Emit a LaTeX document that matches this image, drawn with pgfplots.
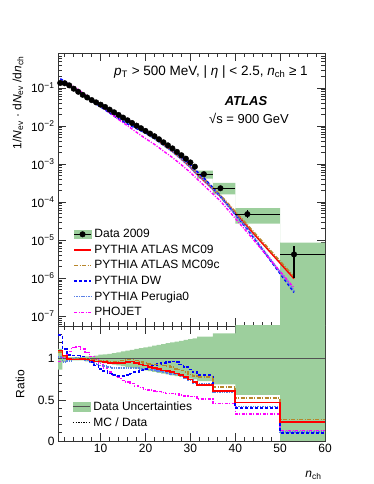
\documentclass[border=0pt]{standalone}
\usepackage{fontspec}
\setmainfont{Liberation Sans}
\usepackage{pgfplots}
\pgfplotsset{compat=1.18}
\usepgfplotslibrary{fillbetween}
\definecolor{band}{HTML}{9DCF9D}
\definecolor{mcnine}{HTML}{FF0000}
\definecolor{mcninec}{HTML}{B8862B}
\definecolor{dw}{HTML}{0000FF}
\definecolor{perugia}{HTML}{5A80E6}
\definecolor{phojet}{HTML}{FF00FF}
\definecolor{frame}{HTML}{333333}
\newcommand{\fs}{\fontsize{12bp}{14bp}\selectfont}

\pgfplotsset{
  atlas/.style={
    scale only axis, width=267bp,
    xmin=0.5, xmax=60,
    axis line style={frame, line width=0.9bp},
    tick align=inside,
    major tick length=8bp, minor tick length=4bp,
    every tick/.style={frame, line width=0.6bp},
    xtick={10,20,...,60},
    minor xtick={2,4,6,8,12,14,16,18,22,24,26,28,32,34,36,38,42,44,46,48,52,54,56,58},
    /pgf/number format/assume math mode=true,
    tick label style={font=\fs},
    legend style={draw=none, fill=none, font=\fs, inner sep=0pt, row sep=1.7bp,
      nodes={inner xsep=2.5bp, inner ysep=2pt}},
    legend cell align=left,
  },
  mcred/.style={color=mcnine, line width=1.6bp},
  mcbrown/.style={color=mcninec, line width=1.6bp, dash pattern=on 4bp off 1.5bp on 1bp off 1.5bp},
  mcdw/.style={color=dw, line width=1.6bp, dash pattern=on 3bp off 2bp},
  mcper/.style={color=perugia, line width=1.8bp, dash pattern=on 1.4bp off 1bp},
  mcpho/.style={color=phojet, line width=1.4bp, dash pattern=on 3bp off 1.5bp on 1bp off 1.5bp},
}

\begin{document}
\begin{tikzpicture}[font=\fs]

% ---------------- top panel ----------------
\begin{axis}[atlas, at={(58bp,158bp)}, anchor=south west, height=273bp,
  ymode=log, ymin=5.5e-8, ymax=0.83,
  ytick={1e-7,1e-6,1e-5,1e-4,1e-3,1e-2,1e-1},
  yticklabels={10\textsuperscript{−7},10\textsuperscript{−6},10\textsuperscript{−5},10\textsuperscript{−4},10\textsuperscript{−3},10\textsuperscript{−2},10\textsuperscript{−1}},
  minor ytick={6e-8,7e-8,8e-8,9e-8,
    2e-7,3e-7,4e-7,5e-7,6e-7,7e-7,8e-7,9e-7,
    2e-6,3e-6,4e-6,5e-6,6e-6,7e-6,8e-6,9e-6,
    2e-5,3e-5,4e-5,5e-5,6e-5,7e-5,8e-5,9e-5,
    2e-4,3e-4,4e-4,5e-4,6e-4,7e-4,8e-4,9e-4,
    2e-3,3e-3,4e-3,5e-3,6e-3,7e-3,8e-3,9e-3,
    2e-2,3e-2,4e-2,5e-2,6e-2,7e-2,8e-2,9e-2,
    2e-1,3e-1,4e-1,5e-1,6e-1,7e-1,8e-1},
  xticklabels={},
  legend style={at={(axis description cs:0.056,0.362)}, anchor=north west},
]
% data systematic boxes (wide bins)
\addplot[name path=tophi, draw=none, const plot, forget plot] coordinates {(31.5,6.7e-4)(35,3.2e-4)(40,6.9e-5)(50,8.5e-6)(60,8.5e-6)};
\addplot[name path=toplo, draw=none, const plot, forget plot] coordinates {(31.5,4.1e-4)(35,1.6e-4)(40,2.7e-5)(50,1e-8)(60,1e-8)};
\addplot[band, forget plot] fill between[of=tophi and toplo];

\addlegendimage{legend image code/.code={
  \fill[band] (0bp,-4.2bp) rectangle (17bp,4.2bp);
  \draw[black, line width=1.2bp] (0bp,0bp) -- (17bp,0bp);
  \fill[black] (8.5bp,0bp) circle (2.8bp);}}
\addlegendentry{Data 2009}

\addplot[mcred] coordinates {(1,0.1485)(2,0.1383)(3,0.117)(4,0.0945)(5,0.0786)(6,0.0661)(8,0.0469)(10,0.0352)(12,0.0256)(14,0.0185)(16,0.01354)(18,0.00969)(20,0.00682)(22,0.00478)(24,0.00320)(26,0.00216)(28,0.00136)(30,0.000825)(31,0.000612)(33,0.000367)(36.7,0.000140)(42.7,2.26e-5)(53.1,9.7e-7)};
\addlegendentry{PYTHIA ATLAS MC09}
\addplot[mcbrown] coordinates {(1,0.1458)(2,0.1370)(3,0.117)(4,0.0955)(5,0.0794)(6,0.0661)(8,0.0474)(10,0.0356)(12,0.0261)(14,0.0189)(16,0.01396)(18,0.0100)(20,0.00704)(22,0.00499)(24,0.00342)(26,0.00231)(28,0.00146)(30,0.000891)(31,0.000672)(33,0.000421)(36.7,0.000152)(42.7,2.50e-5)(53.1,1.09e-6)};
\addlegendentry{PYTHIA ATLAS MC09c}
\addplot[mcdw] coordinates {(1,0.1742)(2,0.1490)(3,0.1229)(4,0.0993)(5,0.0826)(6,0.0681)(8,0.0460)(10,0.0319)(12,0.0221)(14,0.0154)(16,0.01128)(18,0.00857)(20,0.00652)(22,0.00494)(24,0.00353)(26,0.00249)(28,0.00158)(30,0.000957)(31,0.000714)(33,0.000432)(36.7,0.000140)(42.7,1.92e-5)(53.1,4.2e-7)};
\addlegendentry{PYTHIA DW}
\addplot[mcper] coordinates {(1,0.1377)(2,0.1277)(3,0.1135)(4,0.0955)(5,0.0802)(6,0.0661)(8,0.0460)(10,0.0334)(12,0.0242)(14,0.0174)(16,0.01255)(18,0.00908)(20,0.00652)(22,0.00462)(24,0.00312)(26,0.00211)(28,0.00134)(30,0.000814)(31,0.000604)(33,0.000378)(36.7,0.000138)(42.7,2.02e-5)(53.1,4.6e-7)};
\addlegendentry{PYTHIA Perugia0}
\addplot[mcpho] coordinates {(1,0.1310)(2,0.1357)(3,0.1275)(4,0.1089)(5,0.0913)(6,0.0740)(8,0.0489)(10,0.0345)(12,0.0223)(14,0.0148)(16,0.01015)(18,0.00683)(20,0.00467)(22,0.00328)(24,0.00219)(26,0.00148)(28,0.00095)(30,0.000600)(31,0.000459)(33,0.000275)(36.7,0.000106)(42.7,1.58e-5)(53.1,5.5e-7)};
\addlegendentry{PHOJET}

% data
\addplot[black, only marks, mark=*, mark size=2.8bp, mark options={fill=black}, forget plot] coordinates {
(1,0.135)(2,0.133)(3,0.117)(4,0.0955)(5,0.0794)(6,0.0661)(7,0.0562)(8,0.0479)(9,0.0417)(10,0.0363)
(11,0.0316)(12,0.0269)(13,0.0229)(14,0.0195)(15,0.0166)(16,0.0141)(17,0.0120)(18,0.0102)(19,0.00871)(20,0.00741)
(21,0.00631)(22,0.00537)(23,0.00447)(24,0.00372)(25,0.00309)(26,0.00257)(27,0.00209)(28,0.00170)(29,0.00138)(30,0.00110)
(31,0.00085)};
\addplot[black, only marks, mark=*, mark size=2.8bp, mark options={fill=black}, forget plot,
  error bars/.cd, x dir=both, x explicit, y dir=both, y explicit, error mark=none,
  error bar style={black, line width=1.2bp}] coordinates {
(33,5.4e-4) += (2,0.2e-4) -= (1.5,0.2e-4)
(36.7,2.3e-4) += (3.3,0.3e-4) -= (1.7,0.2e-4)
(42.7,4.8e-5) += (7.3,1.2e-5) -= (2.7,1.0e-5)
(53.1,4.2e-6) += (6.9,2.9e-6) -= (3.1,3.2e-6)};
\end{axis}

% ---------------- ratio panel ----------------
\begin{axis}[atlas, at={(58bp,43bp)}, anchor=south west, height=115bp,
  ymin=0, ymax=1.4, ytick={0,0.5,1}, yticklabels={0,0.5,1},
  minor ytick={0.1,0.2,0.3,0.4,0.6,0.7,0.8,0.9,1.1,1.2,1.3},
  legend style={at={(axis description cs:0.052,0.362)}, anchor=north west},
]
\addplot[name path=bandhi, draw=none, const plot, forget plot] coordinates {
(0.5,1.12)(1.5,1.04)(2.5,1.02)(3.5,1.02)(4.5,1.02)(5.5,1.02)(6.5,1.03)(7.5,1.03)(8.5,1.04)(9.5,1.05)
(10.5,1.055)(11.5,1.06)(12.5,1.07)(13.5,1.08)(14.5,1.09)(15.5,1.10)(16.5,1.11)(17.5,1.12)(18.5,1.13)(19.5,1.14)
(20.5,1.15)(21.5,1.16)(22.5,1.17)(23.5,1.18)(24.5,1.19)(25.5,1.20)(26.5,1.21)(27.5,1.22)(28.5,1.23)(29.5,1.24)
(30.5,1.25)(31.5,1.27)(35,1.31)(40,1.50)(50,3.0)(60,3.0)};
\addplot[name path=bandlo, draw=none, const plot, forget plot] coordinates {
(0.5,0.87)(1.5,0.96)(2.5,0.98)(3.5,0.98)(4.5,0.98)(5.5,0.98)(6.5,0.97)(7.5,0.97)(8.5,0.96)(9.5,0.95)
(10.5,0.945)(11.5,0.94)(12.5,0.93)(13.5,0.92)(14.5,0.91)(15.5,0.90)(16.5,0.89)(17.5,0.88)(18.5,0.87)(19.5,0.86)
(20.5,0.85)(21.5,0.84)(22.5,0.83)(23.5,0.82)(24.5,0.81)(25.5,0.80)(26.5,0.79)(27.5,0.78)(28.5,0.77)(29.5,0.76)
(30.5,0.75)(31.5,0.73)(35,0.69)(40,0.56)(50,-1)(60,-1)};
\addplot[band, forget plot] fill between[of=bandhi and bandlo];
\addplot[frame!85, line width=0.8bp, forget plot] coordinates {(0.5,1)(60,1)};

\addlegendimage{legend image code/.code={
  \fill[band] (0bp,-4.2bp) rectangle (17bp,4.2bp);
  \draw[frame!85, line width=0.8bp] (0bp,0bp) -- (17bp,0bp);}}
\addlegendentry{Data Uncertainties}
\addlegendimage{color=black, line width=1.8bp, dash pattern=on 1.4bp off 1.2bp}
\addlegendentry{MC / Data}

\addplot[mcpho, const plot, forget plot] coordinates {
(0.5,0.97)(1.5,1.02)(2.5,1.09)(3.5,1.14)(4.5,1.15)(5.5,1.12)(6.5,1.08)(7.5,1.03)(8.5,0.99)(9.5,0.94)
(10.5,0.89)(11.5,0.84)(12.5,0.80)(13.5,0.77)(14.5,0.74)(15.5,0.72)(16.5,0.70)(17.5,0.67)(18.5,0.65)(19.5,0.63)
(20.5,0.62)(21.5,0.61)(22.5,0.60)(23.5,0.59)(24.5,0.58)(25.5,0.575)(26.5,0.57)(27.5,0.56)(28.5,0.55)(29.5,0.545)
(30.5,0.54)(31.5,0.51)(35,0.46)(40,0.33)(50,0.13)(60,0.13)};
\addplot[mcper, const plot, forget plot] coordinates {
(0.5,1.02)(1.5,0.96)(2.5,0.97)(3.5,1.00)(4.5,1.01)(5.5,1.00)(6.5,0.98)(7.5,0.96)(8.5,0.94)(9.5,0.92)
(10.5,0.91)(11.5,0.90)(12.5,0.89)(13.5,0.89)(14.5,0.89)(15.5,0.89)(16.5,0.89)(17.5,0.89)(18.5,0.88)(19.5,0.88)
(20.5,0.87)(21.5,0.86)(22.5,0.85)(23.5,0.84)(24.5,0.83)(25.5,0.82)(26.5,0.81)(27.5,0.79)(28.5,0.77)(29.5,0.74)
(30.5,0.71)(31.5,0.70)(35,0.60)(40,0.42)(50,0.11)(60,0.11)};
\addplot[mcdw, const plot, forget plot] coordinates {
(0.5,1.29)(1.5,1.12)(2.5,1.05)(3.5,1.04)(4.5,1.04)(5.5,1.03)(6.5,1.00)(7.5,0.96)(8.5,0.92)(9.5,0.88)
(10.5,0.85)(11.5,0.82)(12.5,0.80)(13.5,0.79)(14.5,0.79)(15.5,0.80)(16.5,0.82)(17.5,0.84)(18.5,0.86)(19.5,0.88)
(20.5,0.90)(21.5,0.92)(22.5,0.94)(23.5,0.95)(24.5,0.96)(25.5,0.97)(26.5,0.96)(27.5,0.93)(28.5,0.90)(29.5,0.87)
(30.5,0.84)(31.5,0.80)(35,0.61)(40,0.40)(50,0.10)(60,0.10)};
\addplot[mcbrown, const plot, forget plot] coordinates {
(0.5,1.08)(1.5,1.03)(2.5,1.00)(3.5,1.00)(4.5,1.00)(5.5,1.00)(6.5,1.00)(7.5,0.99)(8.5,0.99)(9.5,0.98)
(10.5,0.98)(11.5,0.97)(12.5,0.97)(13.5,0.97)(14.5,0.98)(15.5,0.99)(16.5,0.99)(17.5,0.98)(18.5,0.96)(19.5,0.95)
(20.5,0.94)(21.5,0.93)(22.5,0.93)(23.5,0.92)(24.5,0.91)(25.5,0.90)(26.5,0.88)(27.5,0.86)(28.5,0.84)(29.5,0.81)
(30.5,0.79)(31.5,0.78)(35,0.66)(40,0.52)(50,0.26)(60,0.26)};
\addplot[mcred, const plot, forget plot] coordinates {
(0.5,1.10)(1.5,1.04)(2.5,1.00)(3.5,0.99)(4.5,0.99)(5.5,1.00)(6.5,0.99)(7.5,0.98)(8.5,0.97)(9.5,0.97)
(10.5,0.96)(11.5,0.95)(12.5,0.95)(13.5,0.95)(14.5,0.95)(15.5,0.96)(16.5,0.97)(17.5,0.95)(18.5,0.93)(19.5,0.92)
(20.5,0.90)(21.5,0.89)(22.5,0.88)(23.5,0.86)(24.5,0.85)(25.5,0.84)(26.5,0.82)(27.5,0.80)(28.5,0.78)(29.5,0.75)
(30.5,0.72)(31.5,0.68)(35,0.61)(40,0.47)(50,0.23)(60,0.23)};
\end{axis}

% ---------------- labels ----------------
\node[font=\fontsize{13.5bp}{15bp}\selectfont] at (211bp,412bp) {\textit{p}\textsubscript{T} > 500 MeV, | \textit{η} | < 2.5, \textit{n}\textsubscript{ch} ≥ 1};
\node[font=\fontsize{13bp}{15bp}\selectfont\bfseries\itshape] at (246bp,383bp) {ATLAS};
\node[font=\fontsize{13bp}{15bp}\selectfont] at (249bp,366bp) {√s = 900 GeV};
\node[rotate=90, anchor=east] at (18bp,431bp) {1/\textit{N}\textsubscript{ev} · d\textit{N}\textsubscript{ev} /d\textit{n}\textsubscript{ch}};
\node[rotate=90] at (20bp,100bp) {Ratio};
\node[anchor=east] at (325bp,9bp) {\textit{n}\textsubscript{ch}};

\pgfresetboundingbox
\path[use as bounding box] (0,0) rectangle (374bp,484bp);
\end{tikzpicture}
\end{document}
